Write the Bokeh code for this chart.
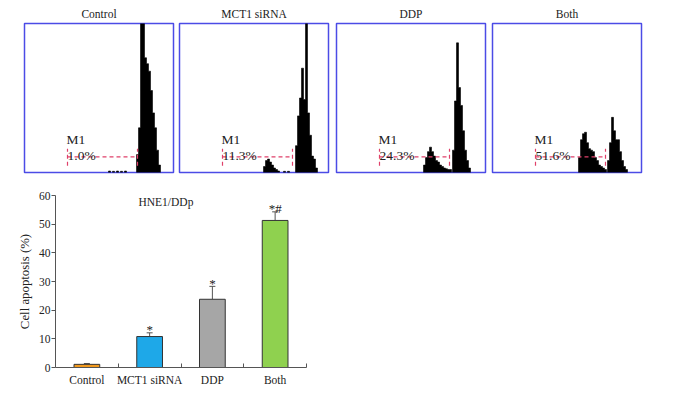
from bokeh.plotting import figure
from bokeh.layouts import row, column
from bokeh.models import ColumnDataSource, Whisker, TeeHead, FixedTicker, Range1d, Label
from bokeh.embed import file_html
from bokeh.resources import INLINE
from bokeh.core.properties import value

SERIF = "Liberation Serif"

# ---------------- flow cytometry panels ----------------
panel_titles = ["Control", "MCT1 siRNA", "DDP", "Both"]
m1_pct = ["1.0%", "11.3%", "24.3%", "51.6%"]
gate_lo, gate_hi = 43, 113          # M1 gate bounds (channel)
gate_level, gate_tick_lo, gate_tick_hi = 10.5, 4.5, 16.0
bin_w = 2

# histogram bin centres (channel) and heights (% of full scale)
ctrl_x = [85, 89, 93, 97, 101, 113, 115, 117, 119, 121, 123, 125, 127, 129, 131, 133, 135]
ctrl_h = [1.0, 0.8, 1.0, 0.8, 1.0, 12, 30, 100, 100, 77, 73, 68, 55, 40, 30, 15, 5]

mct_x = [85, 87, 89, 91, 93, 95, 97, 99, 105, 109, 117, 119, 121, 123, 125, 127, 129, 131, 133, 135, 137]
mct_h = [4, 8, 9, 7, 5, 3, 2, 1, 0.8, 0.8, 18, 38, 50, 70, 49, 100, 40, 25, 11, 9, 3]

ddp_x = [88, 90, 92, 94, 96, 98, 100, 102, 104, 106, 108, 110, 112, 114,
         117, 119, 121, 123, 125, 127, 129, 131, 133]
ddp_h = [5, 10, 14, 17, 14, 11, 8, 7, 5, 4, 3, 2.5, 2, 2,
         15, 48, 87, 57, 45, 28, 15, 8, 3]

both_x = [87, 89, 91, 93, 95, 97, 99, 101, 103, 105, 107, 109, 111, 113,
          116, 118, 120, 122, 124, 126, 128, 130, 132, 134]
both_h = [10, 22, 26, 27, 20, 16, 15, 14, 10, 8, 5, 4, 3, 2,
          8, 20, 37, 28, 22, 22, 14, 8, 4, 2]

hist_x = [ctrl_x, mct_x, ddp_x, both_x]
hist_h = [ctrl_h, mct_h, ddp_h, both_h]


def step_polygons(xs, hs, w):
    """Turn histogram bins into filled step outlines (one polygon per contiguous run)."""
    polys_x, polys_y = [], []
    cur_x, cur_y = [], []
    prev = None
    for x, h in zip(xs, hs):
        if prev is not None and x - prev > w + 0.01:
            cur_x.append(prev + w / 2); cur_y.append(0)
            polys_x.append(cur_x); polys_y.append(cur_y)
            cur_x, cur_y = [], []
        if not cur_x:
            cur_x.append(x - w / 2); cur_y.append(0)
        cur_x += [x - w / 2, x + w / 2]
        cur_y += [h, h]
        prev = x
    cur_x.append(prev + w / 2); cur_y.append(0)
    polys_x.append(cur_x); polys_y.append(cur_y)
    return polys_x, polys_y


borders = [(24, 3), (3, 4), (4, 3), (4, 2)]
title_offsets = [2, -8, 5, -2]

panels = []
for i in range(4):
    left, right = borders[i]
    p = figure(frame_width=149, frame_height=149,
               x_range=Range1d(0, 149), y_range=Range1d(0, 100),
               x_axis_type=None, y_axis_type=None,
               min_border_left=left, min_border_right=right,
               min_border_top=23, min_border_bottom=4,
               output_backend="svg", toolbar_location=None)
    p.title.text = panel_titles[i]
    p.title.align = "center"
    p.title.text_font = SERIF
    p.title.text_font_size = "11.5px"
    p.title.text_font_style = "normal"
    p.title.text_color = "#222222"
    p.title.standoff = 8
    p.title.offset = title_offsets[i]
    p.outline_line_color = "#4b4be6"
    p.outline_line_width = 1.5
    p.background_fill_color = "white"
    p.border_fill_color = "white"

    px, py = step_polygons(hist_x[i], hist_h[i], bin_w)
    p.patches(xs=px, ys=py, fill_color="black", line_color="black", line_width=0.6)

    p.segment(x0=[gate_lo, gate_lo, gate_hi], y0=[gate_level, gate_tick_lo, gate_tick_lo],
              x1=[gate_hi, gate_lo, gate_hi], y1=[gate_level, gate_tick_hi, gate_tick_hi],
              line_color="#e0406a", line_width=1.2, line_dash="4 3")
    p.text(x=[gate_lo - 1], y=[22.3], text=["M1"], text_font=value(SERIF),
           text_font_size="13.5px", text_color="#222222",
           text_align="left", text_baseline="alphabetic")
    p.text(x=[gate_lo], y=[11.6], text=[m1_pct[i]], text_font=value(SERIF),
           text_font_size="13.5px", text_color="#222222",
           text_align="left", text_baseline="alphabetic")
    panels.append(p)

# ---------------- bar chart ----------------
categories = ["Control", "MCT1 siRNA", "DDP", "Both"]
apoptosis = [1.1, 10.8, 23.8, 51.3]
sem = [0.3, 1.3, 4.5, 3.0]
sig = ["", "*", "*", "*#"]
bar_colors = ["#f29a1e", "#1ea8e8", "#a6a6a6", "#8fd14f"]
y_ticks = [0, 10, 20, 30, 40, 50, 60]

xpos = list(range(len(categories)))
src = ColumnDataSource(dict(
    x=xpos, top=apoptosis, upper=[m + e for m, e in zip(apoptosis, sem)],
    color=bar_colors, sig=sig))

b = figure(frame_width=251, frame_height=172,
           x_range=Range1d(-0.5, len(categories) - 0.5), y_range=Range1d(0, 60),
           min_border_left=55, min_border_top=19, min_border_right=20,
           min_border_bottom=4,
           output_backend="svg", toolbar_location=None)
b.outline_line_color = None
b.xgrid.visible = False
b.ygrid.visible = False

b.vbar(x="x", top="top", bottom=0, width=0.41, fill_color="color",
       line_color="#333333", line_width=1, source=src)
b.add_layout(Whisker(base="x", lower="top", upper="upper", source=src,
                     dimension="height", line_color="#555555", line_width=1,
                     upper_head=TeeHead(size=6, line_color="#555555", line_width=1),
                     lower_head=None))
b.text(x="x", y="upper", text="sig", source=src, y_offset=-3,
       text_font=value(SERIF), text_font_size="13px", text_color="#222222",
       text_align="center", text_baseline="alphabetic")
b.add_layout(Label(x=1.26, y=57.7, text="HNE1/DDp", text_font=SERIF,
                   text_font_size="11.5px", text_color="#222222",
                   text_align="center", text_baseline="middle"))

xa = b.xaxis[0]
xa.ticker = FixedTicker(ticks=xpos, minor_ticks=[i + 0.5 for i in xpos])
xa.major_label_overrides = {i: c for i, c in zip(xpos, categories)}
xa.major_tick_line_color = None
xa.major_tick_out = 0
xa.major_tick_in = 0
xa.minor_tick_in = 4
xa.minor_tick_out = 0
xa.minor_tick_line_color = "#555555"
xa.axis_line_color = "#555555"
xa.major_label_standoff = 6
xa.major_label_text_font = SERIF
xa.major_label_text_font_size = "11.5px"
xa.major_label_text_color = "#222222"

ya = b.yaxis[0]
ya.ticker = FixedTicker(ticks=y_ticks)
ya.major_tick_out = 4
ya.major_tick_in = 0
ya.minor_tick_line_color = None
ya.major_tick_line_color = "#555555"
ya.axis_line_color = "#555555"
ya.major_label_standoff = 1
ya.major_label_text_font = SERIF
ya.major_label_text_font_size = "11.5px"
ya.major_label_text_color = "#222222"
ya.axis_label = "Cell apoptosis (%)"
ya.axis_label_standoff = 4
ya.axis_label_text_font = SERIF
ya.axis_label_text_font_size = "12.8px"
ya.axis_label_text_font_style = "normal"
ya.axis_label_text_color = "#222222"

layout = column(row(*panels), b)

open("out.html", "w").write(file_html(layout, INLINE))
